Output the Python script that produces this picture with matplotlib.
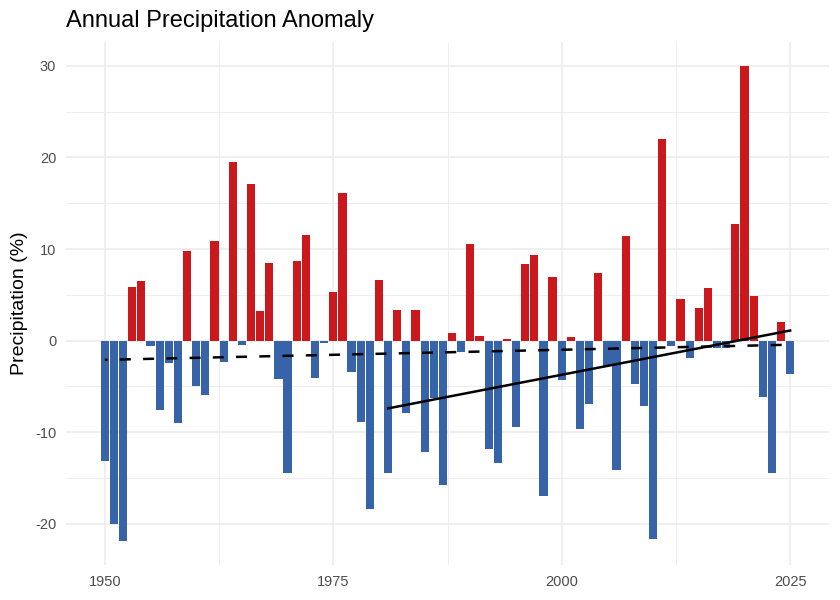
import matplotlib.pyplot as plt
from matplotlib.ticker import MultipleLocator

plt.rcParams['axes.unicode_minus'] = False

# Annual precipitation anomaly (%)
years = list(range(1950, 2026))
anomaly = [
    -13.2, -20.0, -21.9, 5.8, 6.5, -0.6, -7.6, -2.5, -9.0, 9.8,      # 1950-1959
    -5.0, -5.9, 10.9, -2.3, 19.5, -0.5, 17.1, 3.2, 8.5, -4.2,        # 1960-1969
    -14.5, 8.7, 11.5, -4.1, -0.3, 5.3, 16.1, -3.4, -8.9, -18.4,      # 1970-1979
    6.6, -14.5, 3.3, -7.9, 3.3, -12.2, -6.3, -15.8, 0.8, -1.2,       # 1980-1989
    10.6, 0.5, -11.8, -13.4, 0.2, -9.4, 8.4, 9.3, -17.0, 6.9,        # 1990-1999
    -4.3, 0.4, -9.7, -6.9, 7.4, -2.8, -14.1, 11.4, -4.7, -7.1,       # 2000-2009
    -21.7, 22.0, -0.6, 4.5, -1.9, 3.6, 5.7, -0.8, -0.8, 12.7,        # 2010-2019
    30.0, 4.9, -6.2, -14.5, 2.0, -3.6,                               # 2020-2025
]

# Trend lines (start/end year and value)
trend_all_years = [1950, 2025]
trend_all_vals = [-2.1, -0.45]
trend_recent_years = [1981, 2025]
trend_recent_vals = [-7.4, 1.1]

red = '#CB181D'
blue = '#3763A9'

colors = [red if v > 0 else blue for v in anomaly]

fig = plt.figure(figsize=(8.4, 6), dpi=100)
ax = fig.add_axes([66 / 840, 1 - 565 / 600, (829 - 66) / 840, (565 - 42) / 600])

ax.bar(years, anomaly, width=0.9, color=colors, zorder=2)

# full-period trend dashed, recent trend solid
ax.plot(trend_all_years, trend_all_vals, color='black', lw=1.8,
        linestyle=(-6, (4.4, 4.9)), zorder=3)
ax.plot(trend_recent_years, trend_recent_vals, color='black', lw=1.8, zorder=3)

ax.set_xlim(1945.75, 2029.25)
ax.set_ylim(-24.5, 32.6)
ax.set_xticks([1950, 1975, 2000, 2025])
ax.xaxis.set_minor_locator(MultipleLocator(12.5))
ax.yaxis.set_major_locator(MultipleLocator(10))
ax.yaxis.set_minor_locator(MultipleLocator(5))

ax.grid(which='major', color='#EBEBEB', lw=1.1, zorder=0)
ax.grid(which='minor', color='#EBEBEB', lw=0.6, zorder=0)
ax.set_axisbelow(True)
for s in ax.spines.values():
    s.set_visible(False)
ax.tick_params(which='both', length=0)
ax.tick_params(axis='both', labelsize=10.5, labelcolor='#4D4D4D', pad=7,
               labelfontfamily='Liberation Sans')

ax.set_ylabel('Precipitation (%)', fontsize=14, family='Liberation Sans', labelpad=5)
fig.text(66 / 840, 1 - 27 / 600, 'Annual Precipitation Anomaly', fontsize=17,
         family='Liberation Sans', ha='left', va='baseline')

fig.savefig('out.png', dpi=100)
